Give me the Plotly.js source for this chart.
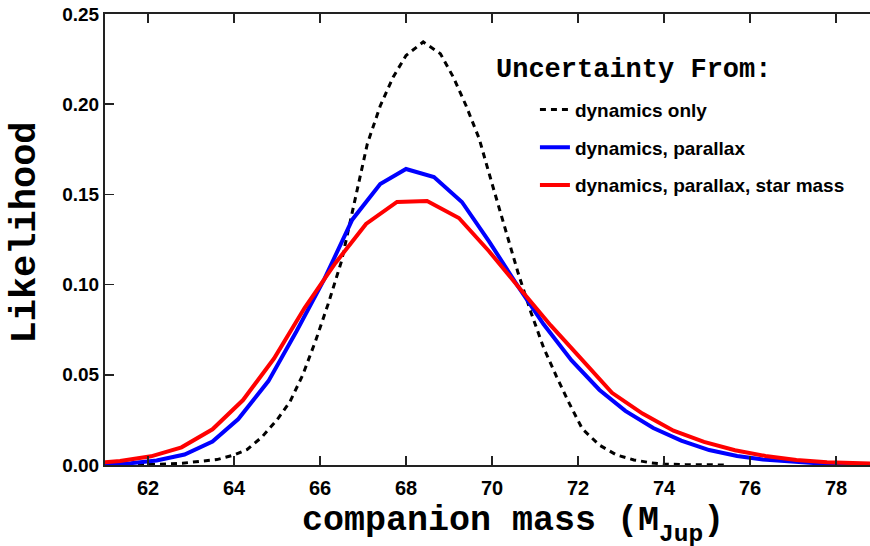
<!DOCTYPE html>
<html>
<head>
<meta charset="utf-8">
<script src="https://cdn.plot.ly/plotly-3.0.1.min.js"></script>
<style>
  html, body { margin: 0; padding: 0; background: #fff; }
  #chart { width: 870px; height: 546px; }
</style>
</head>
<body>
<div id="chart"></div>
<script>
// Likelihood of the companion mass under three uncertainty budgets

// dynamics only
const dynMass = [61.0, 61.6, 62.2, 62.8, 63.2, 63.6, 64.0, 64.3, 64.65, 65.0, 65.3, 65.6, 65.9,
  66.2, 66.5, 66.8, 67.1, 67.4, 67.7, 68.0, 68.4, 68.8, 69.1, 69.4, 69.7, 70.0, 70.3, 70.6,
  70.9, 71.2, 71.5, 71.8, 72.1, 72.5, 72.9, 73.3, 73.7, 74.0, 74.5, 75.0, 75.5];
const dynLike = [0.0000, 0.0001, 0.0004, 0.0010, 0.0018, 0.0030, 0.0055, 0.0085, 0.0155, 0.025,
  0.035, 0.050, 0.069, 0.090, 0.113, 0.145, 0.178, 0.199, 0.215, 0.227, 0.2345, 0.228, 0.215,
  0.199, 0.181, 0.156, 0.131, 0.107, 0.085, 0.065, 0.049, 0.034, 0.020, 0.011, 0.0055, 0.0028,
  0.0012, 0.0005, 0.0002, 0.0001, 0.0000];

// dynamics + parallax
const parMass = [61.0, 61.6, 62.2, 62.85, 63.5, 64.1, 64.8, 65.45, 66.1, 66.75, 67.4, 68.0, 68.65,
  69.3, 69.93, 70.55, 71.2, 71.85, 72.5, 73.1, 73.75, 74.4, 75.05, 75.7, 76.3, 76.95, 77.6, 78.2, 78.8];
const parLike = [0.0005, 0.0010, 0.0025, 0.0058, 0.0130, 0.0255, 0.0465, 0.074, 0.103, 0.136,
  0.1558, 0.1641, 0.1596, 0.1458, 0.1240, 0.101, 0.078, 0.058, 0.0416, 0.0300, 0.0205, 0.0135,
  0.0083, 0.0050, 0.0030, 0.0017, 0.0009, 0.0005, 0.0003];

// dynamics + parallax + stellar mass
const allMass = [60.64, 61.35, 62.07, 62.78, 63.5, 64.21, 64.93, 65.64, 66.36, 67.07, 67.79, 68.49,
  69.23, 69.93, 70.64, 71.36, 72.07, 72.79, 73.5, 74.22, 74.93, 75.65, 76.36, 77.08, 77.79, 78.51, 79.22];
const allLike = [0.0008, 0.0022, 0.0048, 0.0098, 0.0198, 0.0360, 0.0590, 0.0870, 0.1120, 0.1336,
  0.1458, 0.1463, 0.1369, 0.1185, 0.098, 0.0775, 0.0590, 0.0400, 0.0285, 0.0190, 0.0128, 0.0082,
  0.0050, 0.0028, 0.0015, 0.0009, 0.0005];

const seriesNames = ['dynamics only', 'dynamics, parallax', 'dynamics, parallax, star mass'];
const xTicks = [62, 64, 66, 68, 70, 72, 74, 76, 78];
const yTicks = [0.00, 0.05, 0.10, 0.15, 0.20, 0.25];

const sans = 'Liberation Sans, Arial, sans-serif';
const mono = 'Liberation Mono, Courier New, monospace';

const traces = [
  { x: dynMass, y: dynLike, name: seriesNames[0], legendgroup: 'a',
    mode: 'lines', line: { color: '#000000', width: 3, dash: '6px,5px' } },
  { x: parMass, y: parLike, name: seriesNames[1], legendgroup: 'b',
    mode: 'lines', line: { color: '#0000ff', width: 4 } },
  { x: allMass, y: allLike, name: seriesNames[2], legendgroup: 'c',
    mode: 'lines', line: { color: '#ff0000', width: 4 } }
];

const layout = {
  width: 870, height: 546,
  margin: { l: 105, r: 0, t: 14, b: 81 },
  paper_bgcolor: '#ffffff', plot_bgcolor: '#ffffff',
  showlegend: true,
  legend: {
    x: 0.562, xanchor: 'left', y: 0.83, yanchor: 'top',
    font: { family: sans, size: 19, color: '#000', weight: 'bold' },
    traceorder: 'grouped', tracegroupgap: 10,
    bgcolor: 'rgba(0,0,0,0)', borderwidth: 0
  },
  xaxis: {
    range: [61, 78.79], tickvals: xTicks, ticktext: xTicks.map(String),
    ticks: 'inside', ticklen: 9, tickwidth: 1.5, tickcolor: '#222',
    showline: true, linecolor: '#222', linewidth: 2, mirror: 'ticks',
    showgrid: false, zeroline: false, ticklabelstandoff: 4,
    tickfont: { family: sans, size: 20, color: '#000', weight: 'bold' }
  },
  yaxis: {
    range: [0, 0.25], tickvals: yTicks, ticktext: yTicks.map(v => v.toFixed(2)),
    ticks: 'inside', ticklen: 9, tickwidth: 1.5, tickcolor: '#222',
    showline: true, linecolor: '#222', linewidth: 2, mirror: false,
    showgrid: false, zeroline: false,
    tickfont: { family: sans, size: 19, color: '#000', weight: 'bold' }
  },
  annotations: [
    // axis titles
    { text: 'companion mass (M<sub><span style="baseline-shift:-4px">Jup</span></sub>)',
      xref: 'paper', yref: 'paper', x: 0.533, y: -0.133,
      xanchor: 'center', yanchor: 'middle', showarrow: false,
      font: { family: mono, size: 35, color: '#000', weight: 'bold' } },
    { text: 'Likelihood', textangle: -90,
      xref: 'paper', yref: 'paper', x: -0.1046, y: 0.5155,
      xanchor: 'center', yanchor: 'middle', showarrow: false,
      font: { family: mono, size: 37, color: '#000', weight: 'bold' } },
    // legend heading
    { text: 'Uncertainty From:', xref: 'paper', yref: 'paper',
      x: 0.508, y: 0.876, xanchor: 'left', yanchor: 'middle', showarrow: false,
      font: { family: mono, size: 27, color: '#000', weight: 'bold' } }
  ]
};

Plotly.newPlot('chart', traces, layout, { displayModeBar: false, staticPlot: true });
</script>
</body>
</html>
